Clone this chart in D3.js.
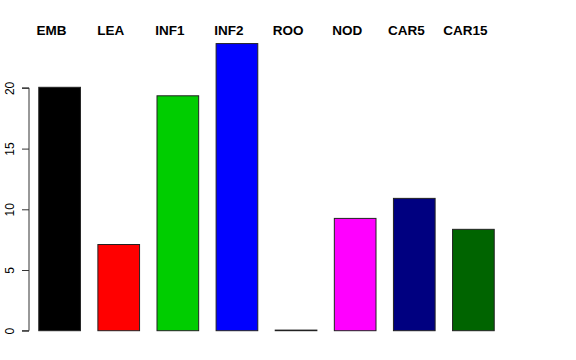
<!DOCTYPE html>
<html>
<head>
<meta charset="utf-8">
<script src="https://cdn.jsdelivr.net/npm/d3@7"></script>
<style>
  body { margin: 0; background: #fff; }
  text { font-family: "Liberation Sans", Arial, sans-serif; }
</style>
</head>
<body>
<script>
var width = 576, height = 360;

// data
var categories = ["EMB", "LEA", "INF1", "INF2", "ROO", "NOD", "CAR5", "CAR15"];
var values = [20.05, 7.1, 19.35, 23.65, 0.05, 9.25, 10.9, 8.35];
var colors = ["#000000", "#ff0000", "#00cd00", "#0000ff", "#000000", "#ff00ff", "#000080", "#006400"];
var yTicks = [0, 5, 10, 15, 20];

var svg = d3.select("body").append("svg").attr("width", width).attr("height", height);

var x = d3.scaleBand().domain(categories).range([30, 502]).paddingInner(0.295).paddingOuter(0.14);
var y = d3.scaleLinear().domain([0, 20]).range([330.7, 87.9]);

// bars
svg.selectAll("rect.bar").data(values).enter().append("rect")
    .attr("class", "bar")
    .attr("x", function(d, i) { return x(categories[i]) + 0.5; })
    .attr("width", x.bandwidth())
    .attr("y", function(d) { return y(d); })
    .attr("height", function(d) { return y(0) - y(d); })
    .attr("fill", function(d, i) { return colors[i]; })
    .attr("stroke", "#222")
    .attr("stroke-width", 1);

// y axis, R style
var yAxis = d3.axisLeft(y).tickValues(yTicks).tickSize(7).tickPadding(4);
var ga = svg.append("g").attr("transform", "translate(29,0)").call(yAxis);
ga.select(".domain").attr("d", "M-7," + y(0) + "H0V" + y(20) + "H-7").attr("stroke", "#333");
ga.selectAll(".tick line").attr("stroke", "#333");
ga.selectAll(".tick text")
    .attr("font-size", 12)
    .attr("fill", "#000")
    .attr("text-anchor", "middle")
    .attr("x", 0).attr("dy", 0)
    .attr("transform", "translate(-15,0) rotate(-90)")
    .attr("font-family", "Liberation Sans, Arial, sans-serif");

// category labels on top, sitting a little left of the bar centres
svg.selectAll("text.lab").data(categories).enter().append("text")
    .attr("class", "lab")
    .attr("x", function(d) { return x(d) + x.bandwidth() / 2 - 7.5; })
    .attr("y", 34.5)
    .attr("text-anchor", "middle")
    .attr("font-size", 13.5)
    .attr("font-weight", "bold")
    .text(function(d) { return d; });
</script>
</body>
</html>
